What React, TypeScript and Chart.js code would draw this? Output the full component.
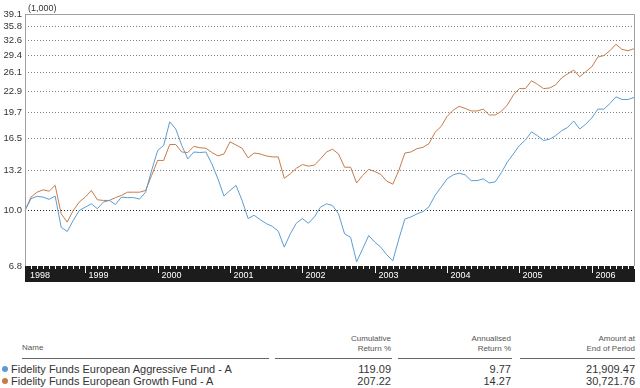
import React, { useEffect, useRef } from "react";
import { Chart, registerables } from "chart.js";

Chart.register(...registerables);

// ---------- data ----------
const startYear = 1998;
const startMonth = 3; // first monthly observation: March 1998
const yearLabels = ["1998", "1999", "2000", "2001", "2002", "2003", "2004", "2005", "2006"];
const yTicks = [6.8, 10.0, 13.2, 16.5, 19.7, 22.9, 26.1, 29.4, 32.6, 35.8, 39.1];
const unitLabel = "(1,000)";

// Fidelity Funds European Aggressive Fund - A (value of 10,000, in thousands)
const aggressive = [
  10.0, 10.85, 11.03, 10.97, 10.8, 11.05, 8.9, 8.64, 9.33, 10.0,
  10.23, 10.47, 10.12, 10.6, 10.72, 10.42, 10.97, 10.93, 10.93, 10.82,
  11.35, 13.2, 15.16, 15.7, 18.5, 17.6, 15.7, 14.3, 15.0, 14.95,
  15.0, 13.8, 12.45, 11.05, 11.49, 11.9, 10.72, 9.45, 9.67, 9.38,
  9.13, 8.96, 8.66, 7.75, 8.5, 9.15, 9.45, 9.15, 9.56, 10.23,
  10.47, 10.35, 9.77, 8.5, 8.3, 7.0, 7.66, 8.4, 8.03, 7.75,
  7.35, 7.05, 8.2, 9.42, 9.56, 9.76, 9.92, 10.26, 11.1, 11.75,
  12.45, 12.8, 12.95, 12.8, 12.3, 12.3, 12.45, 12.1, 12.2, 13.0,
  14.0, 14.8, 15.7, 16.3, 17.25, 16.8, 16.25, 16.4, 16.8, 17.4,
  17.8, 18.6, 17.6, 18.2, 19.0, 20.2, 20.2, 21.0, 22.0, 21.6,
  21.6, 21.91,
];

// Fidelity Funds European Growth Fund - A
const growth = [
  10.0, 10.97, 11.35, 11.54, 11.43, 11.9, 9.77, 9.22, 10.0, 10.6,
  10.97, 11.49, 10.77, 10.72, 10.72, 10.93, 11.1, 11.35, 11.35, 11.35,
  11.49, 12.75, 14.15, 14.15, 15.8, 15.8, 15.0, 14.95, 15.6, 15.45,
  15.4, 14.95, 14.6, 14.8, 16.1, 15.75, 15.4, 14.4, 14.9, 14.8,
  14.6, 14.5, 14.5, 12.5, 12.9, 13.4, 13.75, 13.6, 13.7, 14.3,
  15.0, 15.3, 14.8, 13.5, 13.5, 12.1, 12.75, 13.3, 13.1, 12.85,
  12.25, 12.0, 13.2, 14.9, 15.0, 15.35, 15.5, 15.9, 17.2, 17.9,
  19.2, 20.05, 20.6, 20.3, 19.95, 19.95, 20.2, 19.4, 19.4, 19.9,
  20.8, 22.3, 23.3, 23.3, 24.6, 24.0, 23.3, 23.4, 23.9, 25.1,
  25.8, 26.5, 25.3, 26.2, 27.1, 29.0, 29.3, 30.3, 31.7, 30.6,
  30.3, 30.72,
];

const fundNames = [
  "Fidelity Funds European Aggressive Fund - A",
  "Fidelity Funds European Growth Fund - A",
];
const fundColors = ["#5b9dd2", "#c67b4a"];
const cumulativeReturn = ["119.09", "207.22"];
const annualisedReturn = ["9.77", "14.27"];
const amountAtEnd = ["21,909.47", "30,721.76"];

const months = aggressive.map((_, i) => {
  const m = startMonth - 1 + i;
  return `${startYear + Math.floor(m / 12)}-${String((m % 12) + 1).padStart(2, "0")}`;
});

const FONT = "'Liberation Sans', Arial, sans-serif";

const framePlugin = {
  id: "frameBand",
  afterDraw(chart: any) {
    const { ctx, chartArea: a, scales } = chart;
    const x = scales.x;
    ctx.save();
    // frame
    ctx.strokeStyle = "#a0a0a0";
    ctx.lineWidth = 1;
    const l = Math.round(a.left) + 0.5;
    const t = Math.round(a.top) + 0.5;
    const r = Math.round(a.right) + 0.5;
    const b = Math.round(a.bottom);
    ctx.beginPath();
    ctx.moveTo(l, b);
    ctx.lineTo(l, t);
    ctx.lineTo(r, t);
    ctx.lineTo(r, b);
    ctx.stroke();
    // black axis band
    ctx.fillStyle = "#1c1c1c";
    ctx.fillRect(Math.round(a.left), b, Math.round(a.right) - Math.round(a.left) + 1, 16);
    // ticks & year labels
    ctx.strokeStyle = "#ffffff";
    ctx.fillStyle = "#ffffff";
    ctx.font = `9px ${FONT}`;
    ctx.textBaseline = "middle";
    months.forEach((m, i) => {
      const px = Math.round(x.getPixelForValue(i)) + 0.5;
      const isYear = m.endsWith("-01");
      if (i > 0) {
        ctx.beginPath();
        ctx.moveTo(px, b);
        ctx.lineTo(px, b + (isYear ? 7 : 3));
        ctx.stroke();
      }
      const yr = m.slice(0, 4);
      if (isYear && yearLabels.includes(yr)) {
        ctx.fillText(yr, px + 3, b + 10);
      }
    });
    if (!months[0].endsWith("-01")) {
      ctx.fillText(yearLabels[0], Math.round(a.left) + 5, b + 10);
    }
    // unit label
    ctx.fillStyle = "#333";
    ctx.font = `9px ${FONT}`;
    ctx.textBaseline = "alphabetic";
    ctx.fillText(unitLabel, Math.round(a.left) + 3, Math.round(a.top) - 3);
    ctx.restore();
  },
};

function ChartCanvas() {
  const ref = useRef<HTMLCanvasElement | null>(null);
  useEffect(() => {
    if (!ref.current) return;
    const chart = new Chart(ref.current, {
      type: "line",
      data: {
        labels: months,
        datasets: [
          {
            label: fundNames[0],
            data: aggressive,
            borderColor: fundColors[0],
            borderWidth: 1,
            pointRadius: 0,
            tension: 0,
            fill: false,
          },
          {
            label: fundNames[1],
            data: growth,
            borderColor: fundColors[1],
            borderWidth: 1,
            pointRadius: 0,
            tension: 0,
            fill: false,
          },
        ],
      },
      options: {
        animation: false,
        responsive: false,
        maintainAspectRatio: false,
        devicePixelRatio: 1,
        layout: { padding: { left: 0, right: 6, top: 14, bottom: 24 } },
        plugins: {
          legend: { display: false },
          tooltip: { enabled: false },
        },
        scales: {
          x: { type: "category", display: false, offset: false },
          y: {
            type: "logarithmic",
            min: 6.8,
            max: 39.1,
            afterBuildTicks: (s: any) => {
              s.ticks = yTicks.map((v) => ({ value: v }));
            },
            afterFit: (s: any) => {
              s.width = 25;
            },
            ticks: {
              autoSkip: false,
              padding: 3,
              color: "#333",
              font: { family: FONT, size: 9.5 },
              callback: (v: any) => Number(v).toFixed(1),
            },
            grid: {
              drawTicks: false,
              lineWidth: 1,
              color: (c: any) =>
                c.tick && Math.abs(c.tick.value - 10) < 0.01 ? "#222" : "#808080",
            },
            border: { display: false, dash: [1, 2] },
          },
        },
      },
      plugins: [framePlugin],
    });
    return () => chart.destroy();
  }, []);
  return (
    <canvas
      ref={ref}
      width={640}
      height={290}
      style={{ position: "absolute", left: 0, top: 0, width: 640, height: 290 }}
    />
  );
}

const headStyle: React.CSSProperties = {
  position: "absolute",
  fontFamily: FONT,
  fontSize: 8,
  color: "#555",
  lineHeight: "10px",
  textAlign: "right",
};
const cellStyle: React.CSSProperties = {
  position: "absolute",
  fontFamily: FONT,
  fontSize: 11,
  color: "#333",
  lineHeight: "12px",
  whiteSpace: "nowrap",
};

export default function App() {
  const cols = [
    { right: 640 - 391, head: ["Cumulative", "Return %"], vals: cumulativeReturn },
    { right: 640 - 511, head: ["Annualised", "Return %"], vals: annualisedReturn },
    { right: 640 - 635, head: ["Amount at", "End of Period"], vals: amountAtEnd },
  ];
  const rules = [
    [22, 269],
    [275, 392],
    [398, 512],
    [520, 635],
  ];
  return (
    <div
      style={{
        position: "absolute",
        left: 0,
        top: 0,
        width: 640,
        height: 388,
        background: "#fff",
        overflow: "hidden",
      }}
    >
      <ChartCanvas />
      <div style={{ ...headStyle, left: 22, top: 343, textAlign: "left" }}>Name</div>
      {cols.map((c, ci) => (
        <div key={ci} style={{ ...headStyle, right: c.right, top: 334 }}>
          {c.head[0]}
          <br />
          {c.head[1]}
        </div>
      ))}
      {rules.map(([a, b], i) => (
        <div
          key={i}
          style={{
            position: "absolute",
            left: a,
            width: b - a,
            top: 358,
            height: 1,
            background: "#666",
          }}
        />
      ))}
      {fundNames.map((n, ri) => (
        <React.Fragment key={ri}>
          <div
            style={{
              position: "absolute",
              left: 2,
              top: 363 + ri * 12 + 3,
              width: 6,
              height: 6,
              borderRadius: 3,
              background: fundColors[ri],
            }}
          />
          <div style={{ ...cellStyle, left: 11, top: 363 + ri * 12 }}>{n}</div>
          {cols.map((c, ci) => (
            <div key={ci} style={{ ...cellStyle, right: c.right, top: 363 + ri * 12 }}>
              {c.vals[ri]}
            </div>
          ))}
        </React.Fragment>
      ))}
    </div>
  );
}
